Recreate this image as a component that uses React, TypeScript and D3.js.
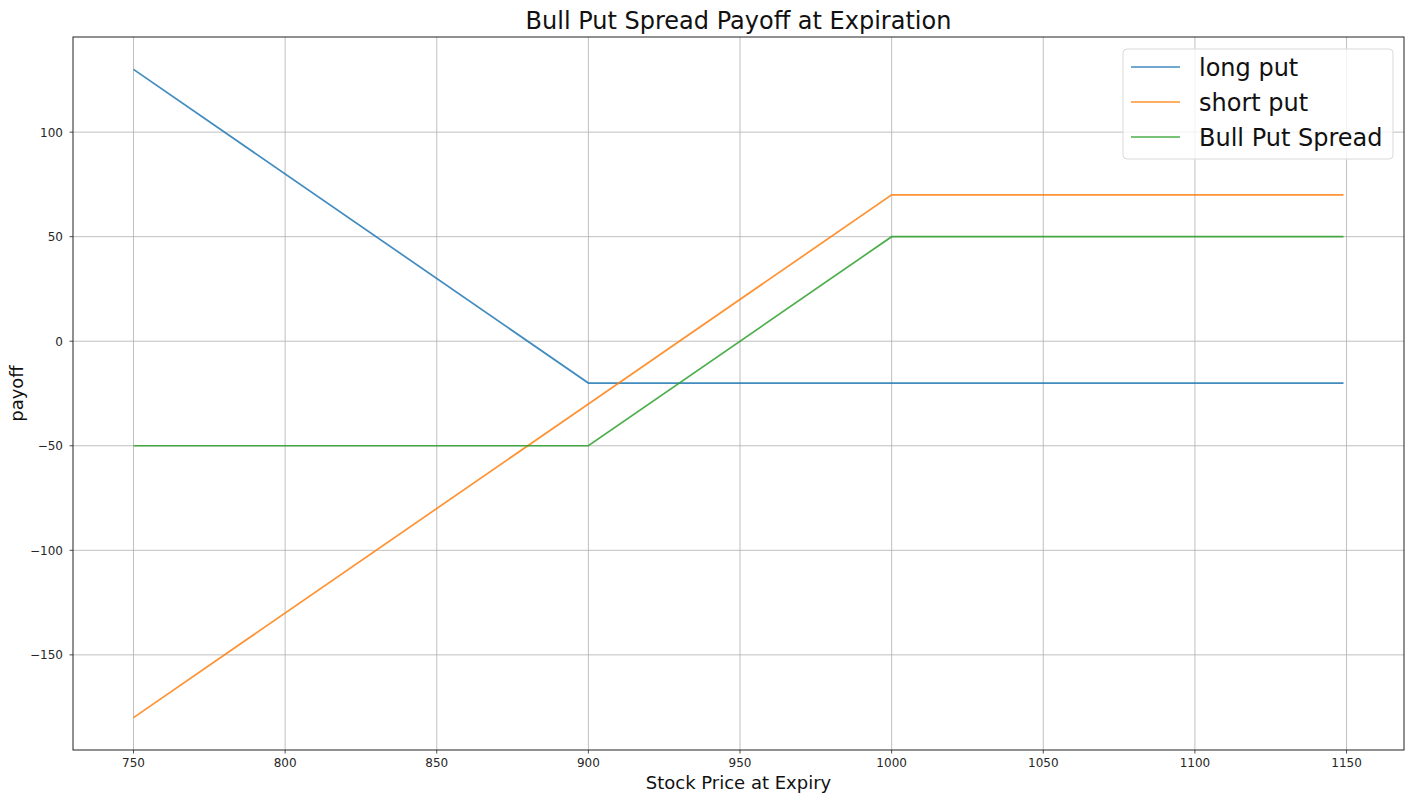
import React from "react";
import * as d3 from "d3";

// Stock price breakpoints and the payoff of each leg at those prices
const stockPrices = [750, 900, 1000, 1149];
const longPut = [130, -20, -20, -20];
const shortPut = [-180, -30, 70, 70];
const bullPutSpread = [-50, -50, 50, 50];

const xTicks = [750, 800, 850, 900, 950, 1000, 1050, 1100, 1150];
const yTicks = [-150, -100, -50, 0, 50, 100];

const seriesNames = ["long put", "short put", "Bull Put Spread"];
const seriesValues = [longPut, shortPut, bullPutSpread];
const seriesColors = ["#1f77b4", "#ff7f0e", "#2ca02c"];

const W = 1410;
const H = 796;
const plot = { left: 73, right: 1404, top: 37, bottom: 750 };
const FONT = "'DejaVu Sans', sans-serif";

export default function App() {
  const xMin = d3.min(stockPrices)!;
  const xMax = d3.max(stockPrices)!;
  const allY = seriesValues.flat();
  const yMin = d3.min(allY)!;
  const yMax = d3.max(allY)!;
  const xPad = (xMax - xMin) * 0.05;
  const yPad = (yMax - yMin) * 0.05;

  const x = d3.scaleLinear().domain([xMin - xPad, xMax + xPad]).range([plot.left, plot.right]);
  const y = d3.scaleLinear().domain([yMin - yPad, yMax + yPad]).range([plot.bottom, plot.top]);

  const line = d3
    .line<[number, number]>()
    .x((d) => x(d[0]))
    .y((d) => y(d[1]));

  const fmt = (v: number) => (v < 0 ? "\u2212" + Math.abs(v) : String(v));

  const legend = { x: 1123, y: 49, w: 270, h: 110 };

  return (
    <svg
      width={W}
      height={H}
      style={{ position: "absolute", left: 0, top: 0, background: "#fff" }}
      fontFamily={FONT}
    >
      <rect x={0} y={0} width={W} height={H} fill="#fff" />
      {/* grid */}
      {xTicks.map((t) => (
        <line key={"gx" + t} x1={x(t)} x2={x(t)} y1={plot.top} y2={plot.bottom} stroke="#b0b0b0" strokeWidth={0.8} />
      ))}
      {yTicks.map((t) => (
        <line key={"gy" + t} x1={plot.left} x2={plot.right} y1={y(t)} y2={y(t)} stroke="#b0b0b0" strokeWidth={0.8} />
      ))}

      {/* series */}
      {seriesValues.map((vals, i) => (
        <path
          key={seriesNames[i]}
          d={line(stockPrices.map((p, j) => [p, vals[j]] as [number, number]))!}
          fill="none"
          stroke={seriesColors[i]}
          strokeOpacity={0.85}
          strokeWidth={1.7}
        />
      ))}

      {/* frame */}
      <rect
        x={plot.left}
        y={plot.top}
        width={plot.right - plot.left}
        height={plot.bottom - plot.top}
        fill="none"
        stroke="#222"
        strokeWidth={1}
      />

      {/* x ticks */}
      {xTicks.map((t) => (
        <g key={"tx" + t}>
          <line x1={x(t)} x2={x(t)} y1={plot.bottom} y2={plot.bottom + 3.5} stroke="#222" strokeWidth={0.8} />
          <text x={x(t)} y={plot.bottom + 17} fontSize={12} textAnchor="middle" fill="#262626">
            {fmt(t)}
          </text>
        </g>
      ))}
      {/* y ticks */}
      {yTicks.map((t) => (
        <g key={"ty" + t}>
          <line x1={plot.left - 3.5} x2={plot.left} y1={y(t)} y2={y(t)} stroke="#222" strokeWidth={0.8} />
          <text x={plot.left - 10} y={y(t) + 4.5} fontSize={12} textAnchor="end" fill="#262626">
            {fmt(t)}
          </text>
        </g>
      ))}

      {/* labels */}
      <text x={(plot.left + plot.right) / 2} y={29} fontSize={24} textAnchor="middle" fill="#111">
        Bull Put Spread Payoff at Expiration
      </text>
      <text x={(plot.left + plot.right) / 2} y={789} fontSize={18} textAnchor="middle" fill="#111">
        Stock Price at Expiry
      </text>
      <text
        transform={`translate(23, ${(plot.top + plot.bottom) / 2}) rotate(-90)`}
        fontSize={18}
        textAnchor="middle"
        fill="#111"
      >
        payoff
      </text>

      {/* legend */}
      <rect
        x={legend.x}
        y={legend.y}
        width={legend.w}
        height={legend.h}
        rx={4}
        fill="#fff"
        fillOpacity={0.8}
        stroke="#d9d9d9"
        strokeWidth={1}
      />
      {seriesNames.map((name, i) => {
        const cy = 67 + i * 35;
        return (
          <g key={"lg" + name}>
            <line x1={1131} x2={1180} y1={cy} y2={cy} stroke={seriesColors[i]} strokeOpacity={0.85} strokeWidth={1.7} />
            <text x={1199} y={cy + 8.5} fontSize={24} fill="#111">
              {name}
            </text>
          </g>
        );
      })}
    </svg>
  );
}
